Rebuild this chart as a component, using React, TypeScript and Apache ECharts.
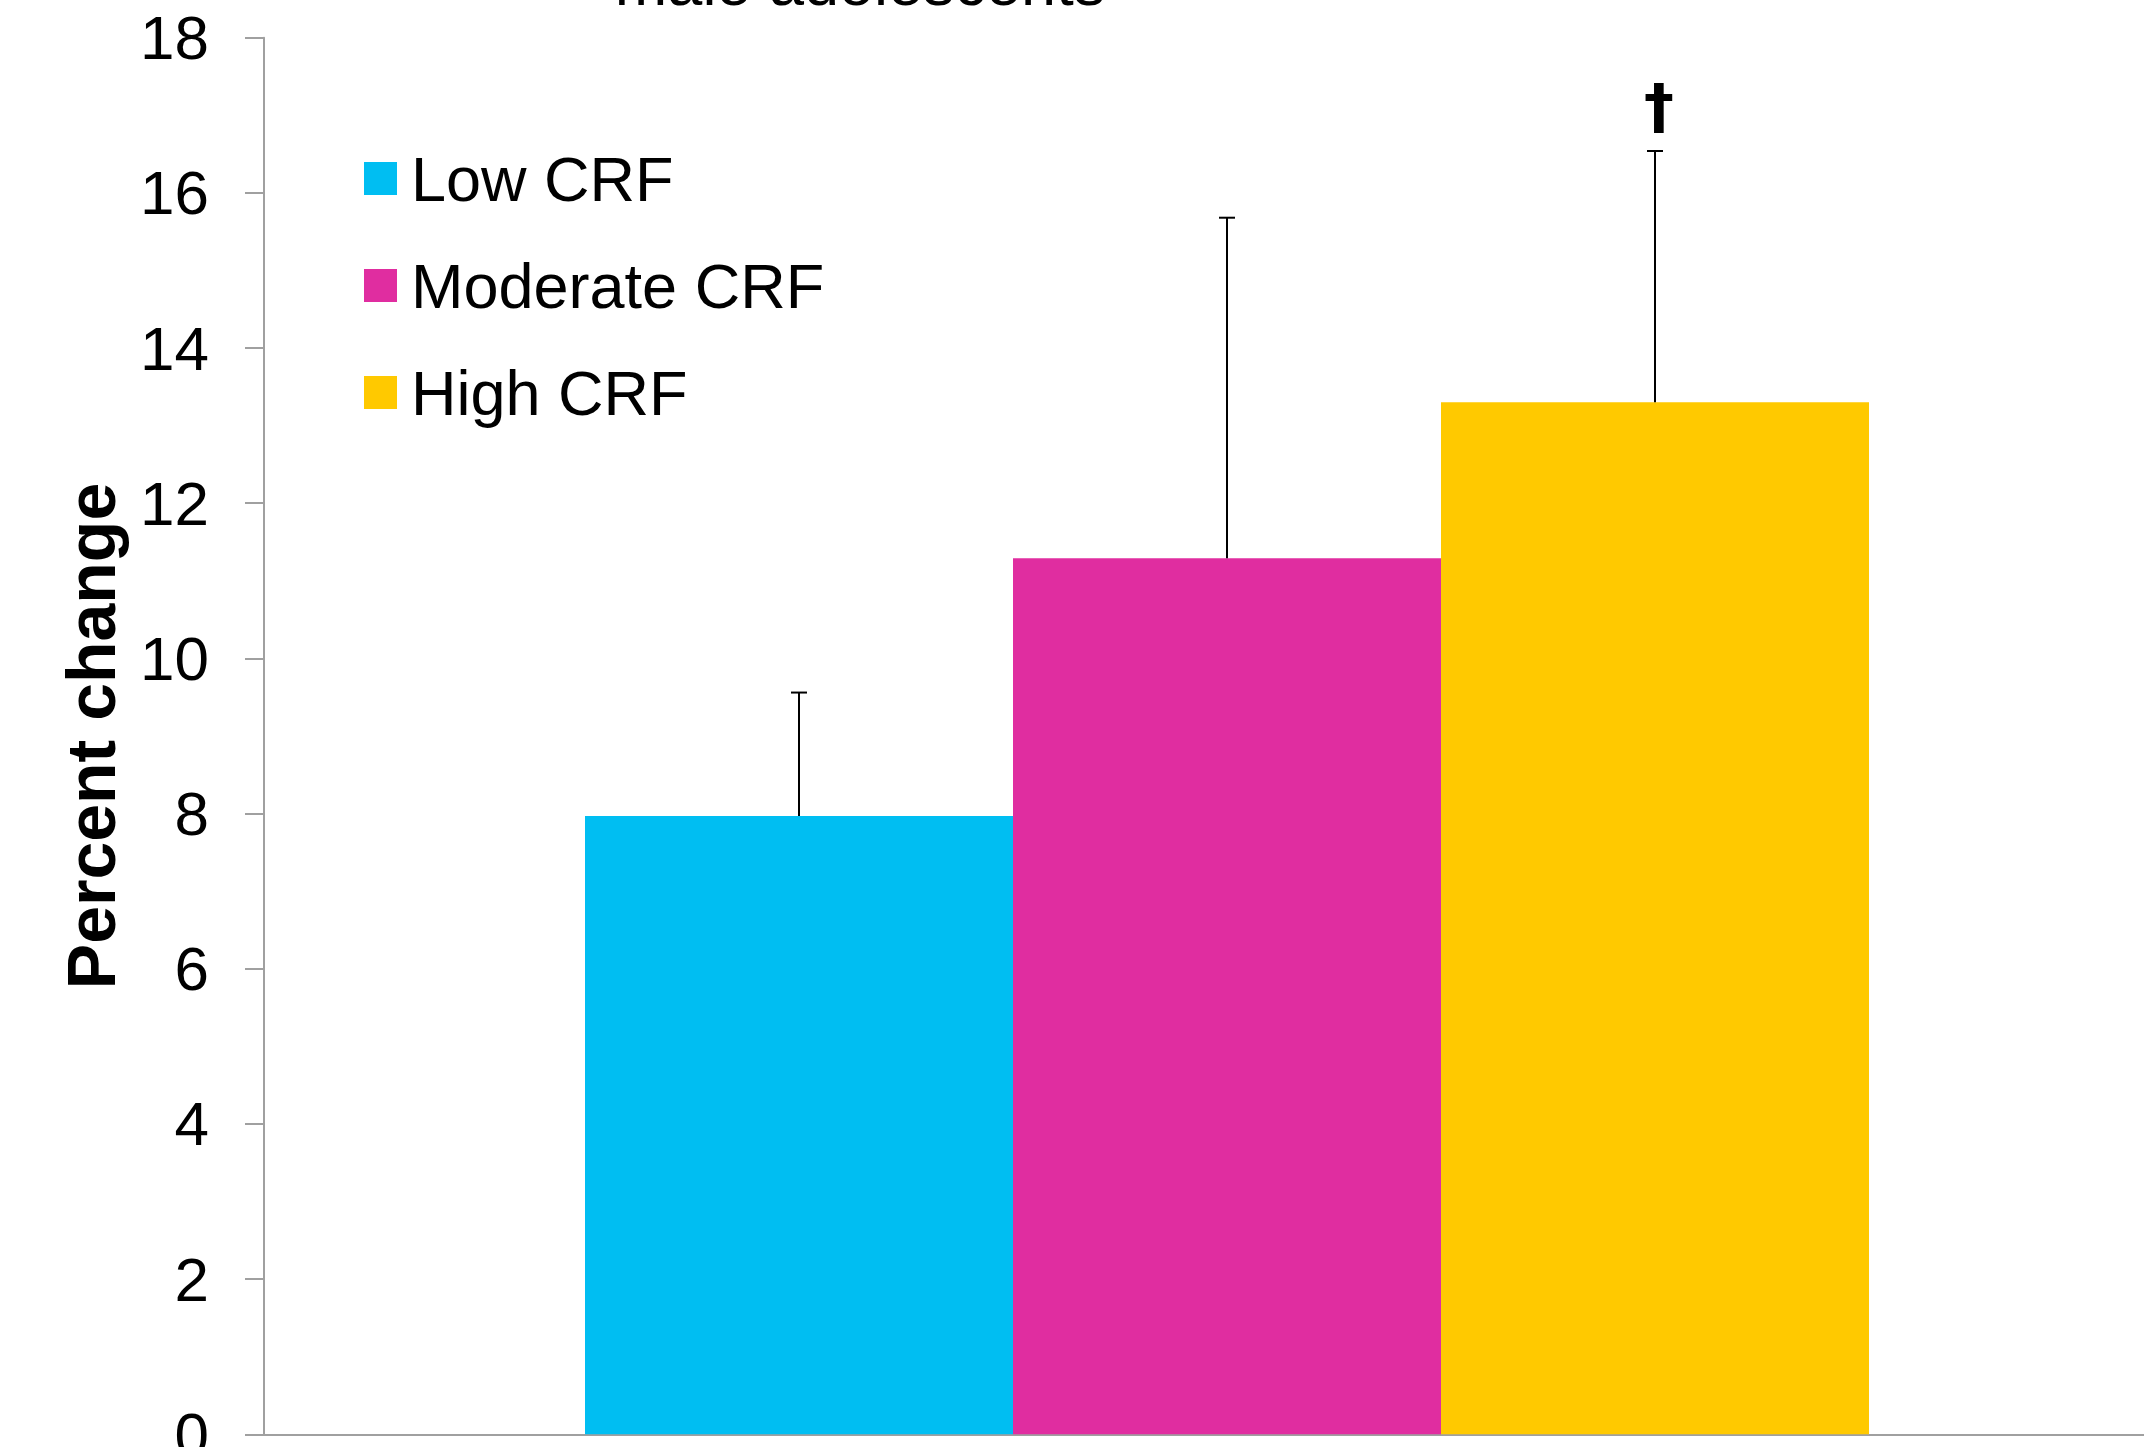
import React, { useEffect, useRef } from "react";
import * as echarts from "echarts";

const categories = ["Male adolescents"];
const seriesNames = ["Low CRF", "Moderate CRF", "High CRF"];
const meanValues = [7.97, 11.29, 13.3];
const errorValues = [1.59, 4.39, 3.24];
const significance = ["", "", "\u2020"];
const colors = ["#00BEF2", "#E02DA0", "#FFC900"];
const yTicks = { min: 0, max: 18, interval: 2 };
const titleText = "male adolescents";
const yAxisName = "Percent change";

const FONT = "'Liberation Sans', Arial, Helvetica, sans-serif";
const BAR_WIDTH = 428;

export default function App() {
  const ref = useRef<HTMLDivElement>(null);

  useEffect(() => {
    if (!ref.current) return;
    const chart = echarts.init(ref.current, undefined, { renderer: "svg" });

    const barSeries = seriesNames.map((name, i) => ({
      name,
      type: "bar",
      data: [meanValues[i]],
      barWidth: BAR_WIDTH,
      barGap: "0%",
      itemStyle: { color: colors[i] },
      emphasis: { disabled: true },
    }));

    const errorData = meanValues.map((v, i) => [0, v, v + errorValues[i], i]);

    const errorSeries = {
      type: "custom",
      name: "error",
      silent: true,
      z: 5,
      clip: false,
      data: errorData,
      renderItem: (params: any, api: any) => {
        const idx = api.value(3);
        const base = api.coord([api.value(0), api.value(1)]);
        const top = api.coord([api.value(0), api.value(2)]);
        const x = base[0] + (idx - 1) * BAR_WIDTH;
        const capHalf = 8;
        const lineStyle = { stroke: "#000", lineWidth: 2 };
        const children: any[] = [
          { type: "line", shape: { x1: x, y1: base[1], x2: x, y2: top[1] }, style: lineStyle },
          { type: "line", shape: { x1: x - capHalf, y1: top[1], x2: x + capHalf, y2: top[1] }, style: lineStyle },
        ];
        const mark = significance[idx];
        if (mark) {
          children.push({
            type: "text",
            x: x + 4,
            y: top[1] - 45,
            style: {
              text: mark,
              fontSize: 60,
              fontWeight: "bold",
              fontFamily: "'DejaVu Sans', sans-serif",
              fill: "#000",
              align: "center",
              verticalAlign: "middle",
            },
          });
        }
        return { type: "group", children };
      },
    };

    const option: any = {
      animation: false,
      backgroundColor: "#fff",
      textStyle: { fontFamily: FONT },
      graphic: [
        {
          type: "text",
          x: 860,
          y: -17,
          style: {
            text: titleText,
            fontSize: 63,
            fontFamily: FONT,
            fill: "#000",
            align: "center",
            verticalAlign: "middle",
          },
        },
      ],
      legend: {
        orient: "vertical",
        left: 359,
        top: 140,
        itemWidth: 33,
        itemHeight: 33,
        itemGap: 40,
        icon: "rect",
        data: seriesNames,
        selectedMode: false,
        textStyle: {
          fontSize: 63,
          fontFamily: FONT,
          color: "#000",
          lineHeight: 63,
          padding: [4, 0, 0, 9],
        },
      },
      grid: {
        left: 264,
        width: 1926,
        top: 37.7,
        bottom: 12.7,
        containLabel: false,
        outerBoundsMode: "none",
      },
      xAxis: {
        type: "category",
        data: categories,
        axisLine: { show: true, lineStyle: { color: "#A0A0A0", width: 2 } },
        axisTick: { show: false },
        axisLabel: { show: false },
        splitLine: { show: false },
      },
      yAxis: {
        type: "value",
        min: yTicks.min,
        max: yTicks.max,
        interval: yTicks.interval,
        name: yAxisName,
        nameLocation: "middle",
        nameRotate: 90,
        nameGap: 139,
        nameTextStyle: {
          fontSize: 68,
          fontWeight: "bold",
          fontFamily: FONT,
          color: "#000",
        },
        axisLine: { show: true, lineStyle: { color: "#A0A0A0", width: 2 } },
        axisTick: { show: true, inside: false, length: 19, lineStyle: { color: "#A0A0A0", width: 2 } },
        axisLabel: { fontSize: 62, color: "#000", margin: 55, fontFamily: FONT },
        splitLine: { show: false },
      },
      series: [...barSeries, errorSeries],
    };

    chart.setOption(option);
    return () => chart.dispose();
  }, []);

  return (
    <div
      ref={ref}
      style={{ position: "fixed", left: 0, top: 0, width: 2144, height: 1447, background: "#fff" }}
    />
  );
}
